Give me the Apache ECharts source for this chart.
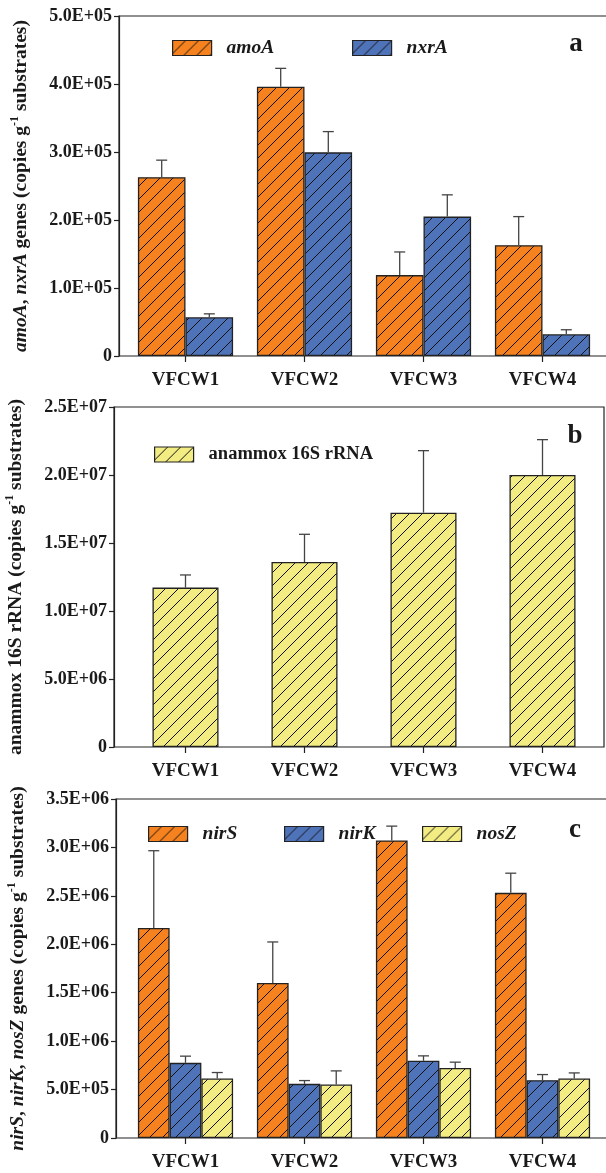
<!DOCTYPE html>
<html>
<head>
<meta charset="utf-8">
<script src="https://cdn.jsdelivr.net/npm/echarts@6/dist/echarts.min.js"></script>
<style>
  html, body { margin: 0; padding: 0; background: #ffffff; }
  #chart { width: 606px; height: 1173px; }
</style>
</head>
<body>
<div id="chart"></div>
<script>
// Sites
const categories = ['VFCW1', 'VFCW2', 'VFCW3', 'VFCW4'];

// (a) nitrification genes, copies per g substrate
const amoA = [2.63e5, 3.96e5, 1.19e5, 1.63e5];
const amoASd = [0.25e5, 0.27e5, 0.34e5, 0.42e5];
const nxrA = [0.57e5, 2.995e5, 2.05e5, 0.32e5];
const nxrASd = [0.05e5, 0.305e5, 0.32e5, 0.066e5];

// (b) anammox 16S rRNA
const anammox = [1.172e7, 1.36e7, 1.723e7, 2.0e7];
const anammoxSd = [0.093e7, 0.204e7, 0.456e7, 0.26e7];

// (c) denitrification genes
const nirS = [2.169e6, 1.60e6, 3.072e6, 2.531e6];
const nirSSd = [0.797e6, 0.424e6, 0.148e6, 0.203e6];
const nirK = [0.776e6, 0.559e6, 0.797e6, 0.597e6];
const nirKSd = [0.069e6, 0.034e6, 0.051e6, 0.058e6];
const nosZ = [0.614e6, 0.552e6, 0.724e6, 0.614e6];
const nosZSd = [0.062e6, 0.141e6, 0.059e6, 0.058e6];

// y tick labels
const ticksA = ['0', '1.0E+05', '2.0E+05', '3.0E+05', '4.0E+05', '5.0E+05'];
const ticksB = ['0', '5.0E+06', '1.0E+07', '1.5E+07', '2.0E+07', '2.5E+07'];
const ticksC = ['0', '5.0E+05', '1.0E+06', '1.5E+06', '2.0E+06', '2.5E+06', '3.0E+06', '3.5E+06'];

const FONT = '"Liberation Serif", "Times New Roman", serif';
const INK = '#1a1a1a';
const ORANGE = '#f5821f';
const BLUE = '#4f73b9';
const YELLOW = '#f2ec82';

// diagonal "/" hatch over a solid fill
function hatch(fill) {
  const s = 13;
  const c = document.createElement('canvas');
  c.width = s; c.height = s;
  const g = c.getContext('2d');
  g.fillStyle = fill;
  g.fillRect(0, 0, s, s);
  g.strokeStyle = '#111';
  g.lineWidth = 1;
  g.beginPath();
  g.moveTo(-1, s + 1); g.lineTo(s + 1, -1);
  g.moveTo(-2, 2); g.lineTo(2, -2);
  g.moveTo(s - 2, s + 2); g.lineTo(s + 2, s - 2);
  g.stroke();
  return { image: c, repeat: 'repeat' };
}

const panels = [
  { top: 16, bottom: 1173 - 356, axisX: 119, frameRight: -3, interval: 1e5, max: 5e5, ticks: ticksA, gap: 0.20,
    name: '{i|amoA}, {i|nxrA} genes (copies g{s|-1} substrates)' },
  { top: 407, bottom: 1173 - 747, axisX: 114, frameRight: 2, interval: 5e6, max: 2.5e7, ticks: ticksB, gap: 0.445,
    name: 'anammox 16S rRNA (copies g{s|-1} substrates)' },
  { top: 799, bottom: 1173 - 1138, axisX: 116, frameRight: -3, interval: 5e5, max: 3.5e6, ticks: ticksC, gap: 0.20,
    name: '{i|nirS}, {i|nirK}, {i|nosZ} genes (copies g{s|-1} substrates)' }
];

const TITLE_SIZE = 19.5;
const grid = [], xAxis = [], yAxis = [];
panels.forEach((p, pi) => {
  // frame grid: axis line, ticks, labels, border
  grid.push({ left: p.axisX, right: p.frameRight, top: p.top, bottom: p.bottom,
    show: true, borderColor: '#222', borderWidth: 1.2, backgroundColor: 'transparent', outerBoundsMode: 'none' });
  // data grid: where the categories live
  grid.push({ left: 126, right: 4, top: p.top, bottom: p.bottom, outerBoundsMode: 'none' });

  xAxis.push({ gridIndex: 2 * pi, type: 'value', show: false, min: 0, max: 1 });
  xAxis.push({
    gridIndex: 2 * pi + 1, type: 'category', data: categories,
    axisLine: { show: false },
    axisTick: { show: true, alignWithLabel: true, length: 6, lineStyle: { color: '#222', width: 1.2 } },
    axisLabel: { margin: 15, color: INK, fontFamily: FONT, fontWeight: 'bold', fontSize: 19 }
  });

  yAxis.push({
    gridIndex: 2 * pi, type: 'value', min: 0, max: p.max, interval: p.interval,
    splitLine: { show: false },
    axisLine: { show: true, lineStyle: { color: '#222', width: 1.2 } },
    axisTick: { show: true, inside: false, length: 5, lineStyle: { color: '#222', width: 1.2 } },
    axisLabel: { margin: 7, color: INK, fontFamily: FONT, fontWeight: 'bold', fontSize: 18,
      formatter: v => p.ticks[Math.round(v / p.interval)] },
    name: p.name, nameLocation: 'middle', nameRotate: 90, nameGap: 86,
    nameTextStyle: {
      color: INK, fontFamily: FONT, fontWeight: 'bold', fontSize: TITLE_SIZE,
      rich: {
        i: { fontFamily: FONT, fontWeight: 'bold', fontStyle: 'italic', fontSize: TITLE_SIZE, color: INK },
        s: { fontFamily: FONT, fontWeight: 'bold', fontSize: 12, color: INK, verticalAlign: 'top', lineHeight: 24 }
      }
    }
  });
  yAxis.push({ gridIndex: 2 * pi + 1, type: 'value', min: 0, max: p.max, interval: p.interval, show: false });
});

function barSeries(pi, name, values, fill) {
  return {
    type: 'bar', name, xAxisIndex: 2 * pi + 1, yAxisIndex: 2 * pi + 1,
    data: values, barGap: '0%', barCategoryGap: (panels[pi].gap * 100) + '%',
    itemStyle: { color: hatch(fill), borderColor: '#222', borderWidth: 1.3 },
    emphasis: { disabled: true }, silent: true, z: 2
  };
}

// upper error whisker with a cap, placed over bar k of n in each group
function errSeries(pi, values, sds, k, n) {
  const gapFrac = panels[pi].gap;
  return {
    type: 'custom', xAxisIndex: 2 * pi + 1, yAxisIndex: 2 * pi + 1, z: 5, silent: true,
    data: values.map((v, i) => [i, v, sds[i]]),
    encode: { x: 0, y: 1 },
    renderItem(params, api) {
      const i = api.value(0), v = api.value(1), sd = api.value(2);
      const band = api.size([1, 0])[0];
      const bw = band * (1 - gapFrac) / n;
      const cx = api.coord([i, 0])[0] + (k - (n - 1) / 2) * bw;
      const yv = api.coord([i, v])[1];
      const yt = api.coord([i, v + sd])[1];
      const style = { stroke: '#444', lineWidth: 1.3 };
      return { type: 'group', children: [
        { type: 'line', shape: { x1: cx, y1: yv, x2: cx, y2: yt }, style },
        { type: 'line', shape: { x1: cx - 5.5, y1: yt, x2: cx + 5.5, y2: yt }, style }
      ] };
    }
  };
}

const series = [
  barSeries(0, 'amoA', amoA, ORANGE),
  barSeries(0, 'nxrA', nxrA, BLUE),
  errSeries(0, amoA, amoASd, 0, 2),
  errSeries(0, nxrA, nxrASd, 1, 2),

  barSeries(1, 'anammox 16S rRNA', anammox, YELLOW),
  errSeries(1, anammox, anammoxSd, 0, 1),

  barSeries(2, 'nirS', nirS, ORANGE),
  barSeries(2, 'nirK', nirK, BLUE),
  barSeries(2, 'nosZ', nosZ, YELLOW),
  errSeries(2, nirS, nirSSd, 0, 3),
  errSeries(2, nirK, nirKSd, 1, 3),
  errSeries(2, nosZ, nosZSd, 2, 3)
];

function legendItem(name, left, top, italic) {
  return {
    data: [name], left, top, padding: 0, itemWidth: 39, itemHeight: 15,
    selectedMode: false,
    icon: 'rect',
    itemStyle: { borderColor: '#222', borderWidth: 1.2 },
    textStyle: { color: INK, fontFamily: FONT, fontWeight: 'bold', fontStyle: italic ? 'italic' : 'normal',
      fontSize: italic ? 19.5 : 18.5, padding: [0, 0, 0, 10] }
  };
}

const legend = [
  legendItem('amoA', 172, 38, true),
  legendItem('nxrA', 352, 38, true),
  legendItem('anammox 16S rRNA', 154, 445, false),
  legendItem('nirS', 148, 824, true),
  legendItem('nirK', 284, 824, true),
  legendItem('nosZ', 422, 824, true)
];

const letter = (t, x, y) => ({
  type: 'text', x, y, silent: true,
  style: { text: t, fill: INK, font: 'bold 27px ' + FONT, textAlign: 'center', textVerticalAlign: 'middle' }
});

const chart = echarts.init(document.getElementById('chart'), null, { renderer: 'canvas' });
chart.setOption({
  animation: false,
  backgroundColor: '#ffffff',
  grid, xAxis, yAxis, series, legend,
  graphic: [letter('a', 576, 44), letter('b', 575, 436), letter('c', 575, 830)]
});
</script>
</body>
</html>
